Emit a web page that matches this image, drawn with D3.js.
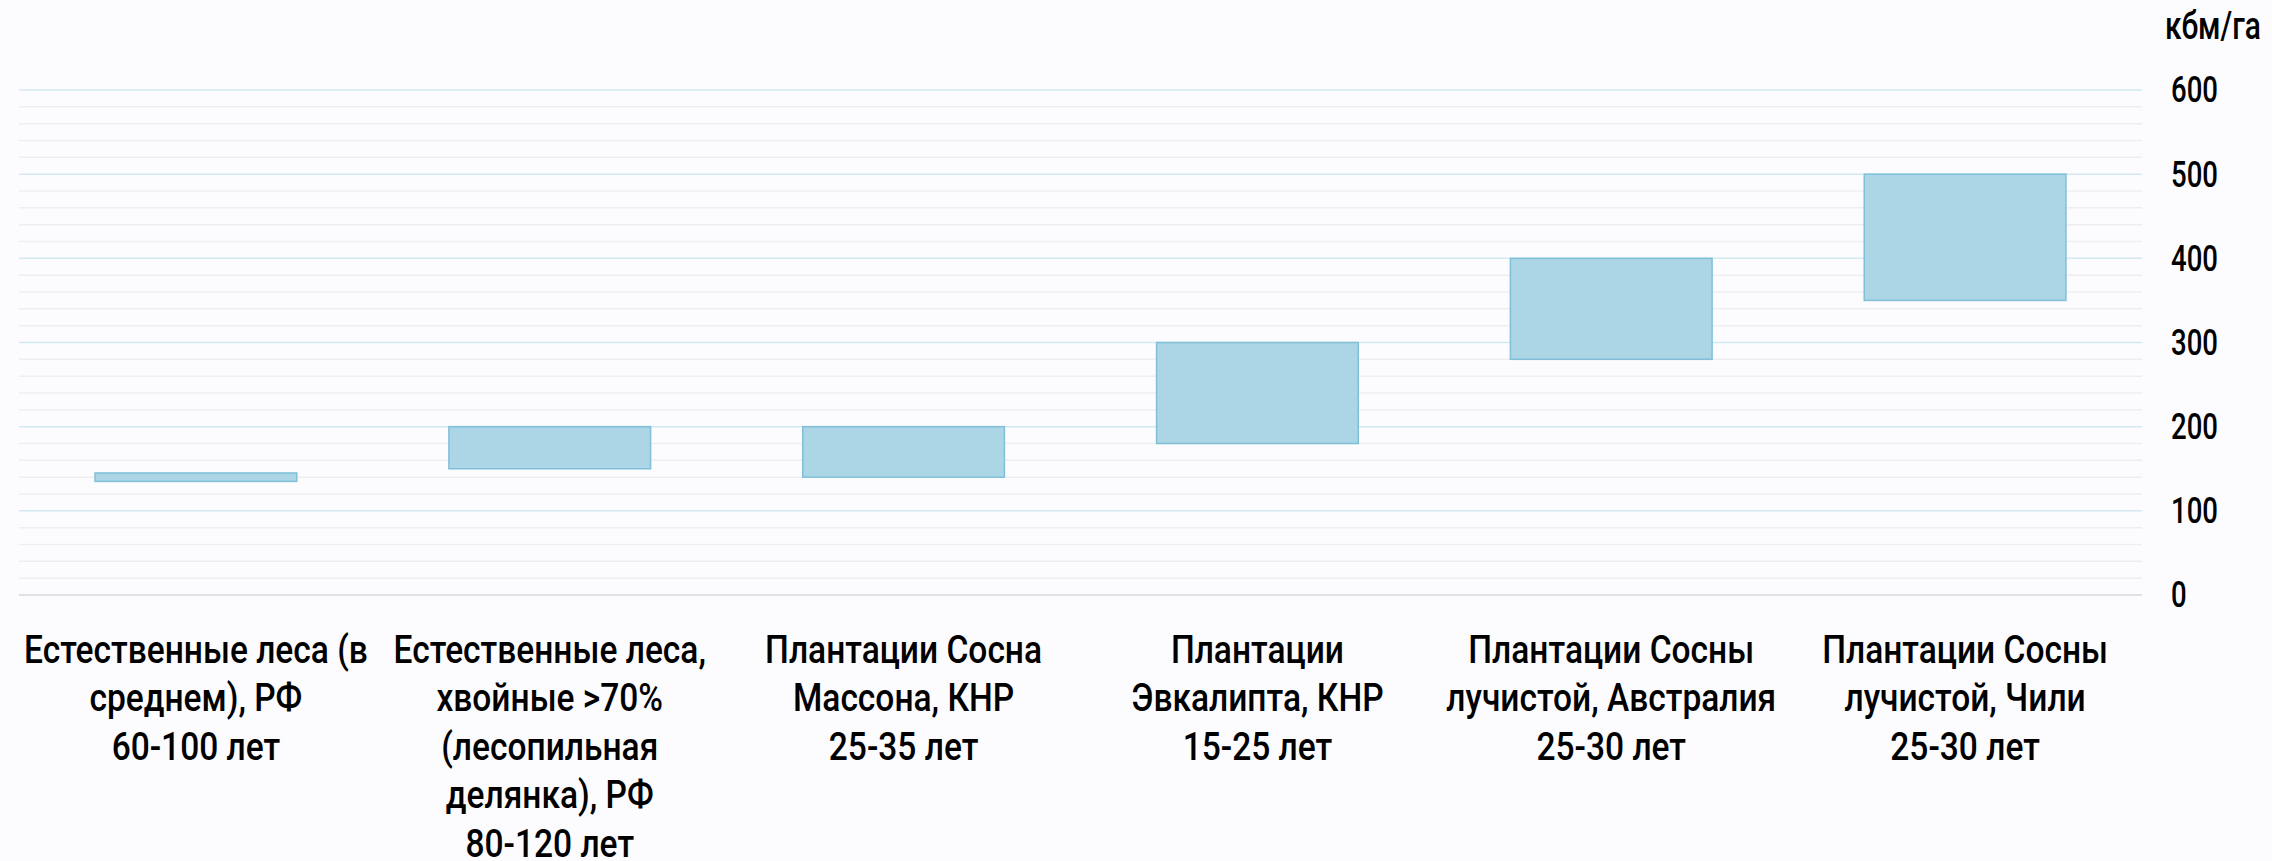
<!DOCTYPE html>
<html>
<head>
<meta charset="utf-8">
<script src="https://cdn.jsdelivr.net/npm/d3@7"></script>
<style>
  html, body { margin: 0; padding: 0; background: #fcfbfe; }
  svg { display: block; }
  text { font-family: Roboto, "DejaVu Sans", sans-serif; font-weight: 500; fill: #000; }
</style>
</head>
<body>
<div id="chart"></div>
<script>
// categories, wrapped the same way as in the picture
const categories = [
    ['Естественные леса (в', 'среднем), РФ', '60-100 лет'],
    ['Естественные леса,', 'хвойные >70%', '(лесопильная', 'делянка), РФ', '80-120 лет'],
    ['Плантации Сосна', 'Массона, КНР', '25-35 лет'],
    ['Плантации', 'Эвкалипта, КНР', '15-25 лет'],
    ['Плантации Сосны', 'лучистой, Австралия', '25-30 лет'],
    ['Плантации Сосны', 'лучистой, Чили', '25-30 лет']
];
const lowValues = [135, 150, 140, 180, 280, 350];
const highValues = [145, 200, 200, 300, 400, 500];
const yTicks = [0, 100, 200, 300, 400, 500, 600];
const unitLabel = 'кбм/га';

const width = 2272;
const height = 861;
const margin = { left: 19, right: 130, top: 90, bottom: 266 };

const svg = d3.select('#chart')
    .append('svg')
    .attr('width', width)
    .attr('height', height);

const x = d3.scaleBand()
    .domain(d3.range(categories.length))
    .range([margin.left, width - margin.right])
    .paddingInner(0.43)
    .paddingOuter(0.215);

const y = d3.scaleLinear()
    .domain([0, 600])
    .range([height - margin.bottom, margin.top]);

// the source font is a narrow one, so squeeze text horizontally to match
function squeeze(str, size, target) {
    const probe = svg.append('text').style('font-size', size + 'px').text(str);
    const k = target / probe.node().getComputedTextLength();
    probe.remove();
    return k;
}
const sx = squeeze(categories[0][0], 38, 335);
const sxTick = squeeze('600', 37, 47);
const sxUnit = squeeze(unitLabel, 38, 96);

// minor gridlines every 20
const minor = d3.range(20, 600, 20).filter(v => v % 100 !== 0);
svg.append('g')
    .selectAll('line')
    .data(minor)
    .join('line')
    .attr('x1', margin.left)
    .attr('x2', width - margin.right)
    .attr('y1', d => y(d))
    .attr('y2', d => y(d))
    .attr('stroke', '#efeeef')
    .attr('stroke-width', 1.5);

// major gridlines
svg.append('g')
    .selectAll('line')
    .data(yTicks)
    .join('line')
    .attr('x1', margin.left)
    .attr('x2', width - margin.right)
    .attr('y1', d => y(d))
    .attr('y2', d => y(d))
    .attr('stroke', d => d === 0 ? '#d9d9d9' : '#d3e9f2')
    .attr('stroke-width', 1.5);

// floating bars
svg.append('g')
    .selectAll('rect')
    .data(categories.map((c, i) => ({ i, lo: lowValues[i], hi: highValues[i] })))
    .join('rect')
    .attr('x', d => x(d.i))
    .attr('width', x.bandwidth())
    .attr('y', d => y(d.hi))
    .attr('height', d => y(d.lo) - y(d.hi))
    .attr('fill', '#acd5e6')
    .attr('stroke', '#7fc0d8')
    .attr('stroke-width', 1.5);

// y axis on the right
const yAxis = svg.append('g')
    .attr('transform', `translate(${width - margin.right + 29},0)`)
    .call(d3.axisRight(y).tickValues(yTicks).tickSize(0).tickPadding(0));
yAxis.select('.domain').remove();
yAxis.selectAll('text')
    .style('font-family', 'Roboto, sans-serif')
    .style('font-size', '37px')
    .attr('fill', '#000')
    .attr('transform', `scale(${sxTick},1)`);

svg.append('text')
    .attr('transform', `translate(2165,39) scale(${sxUnit},1)`)
    .style('font-size', '38px')
    .text(unitLabel);

// category labels
const labels = svg.append('g')
    .selectAll('text')
    .data(categories)
    .join('text')
    .attr('text-anchor', 'middle')
    .attr('transform', (d, i) => `translate(${x(i) + x.bandwidth() / 2},663) scale(${sx},1)`)
    .style('font-size', '39px');

labels.selectAll('tspan')
    .data(d => d)
    .join('tspan')
    .attr('x', 0)
    .attr('dy', (d, i) => i === 0 ? 0 : 48.5)
    .text(d => d);
</script>
</body>
</html>
